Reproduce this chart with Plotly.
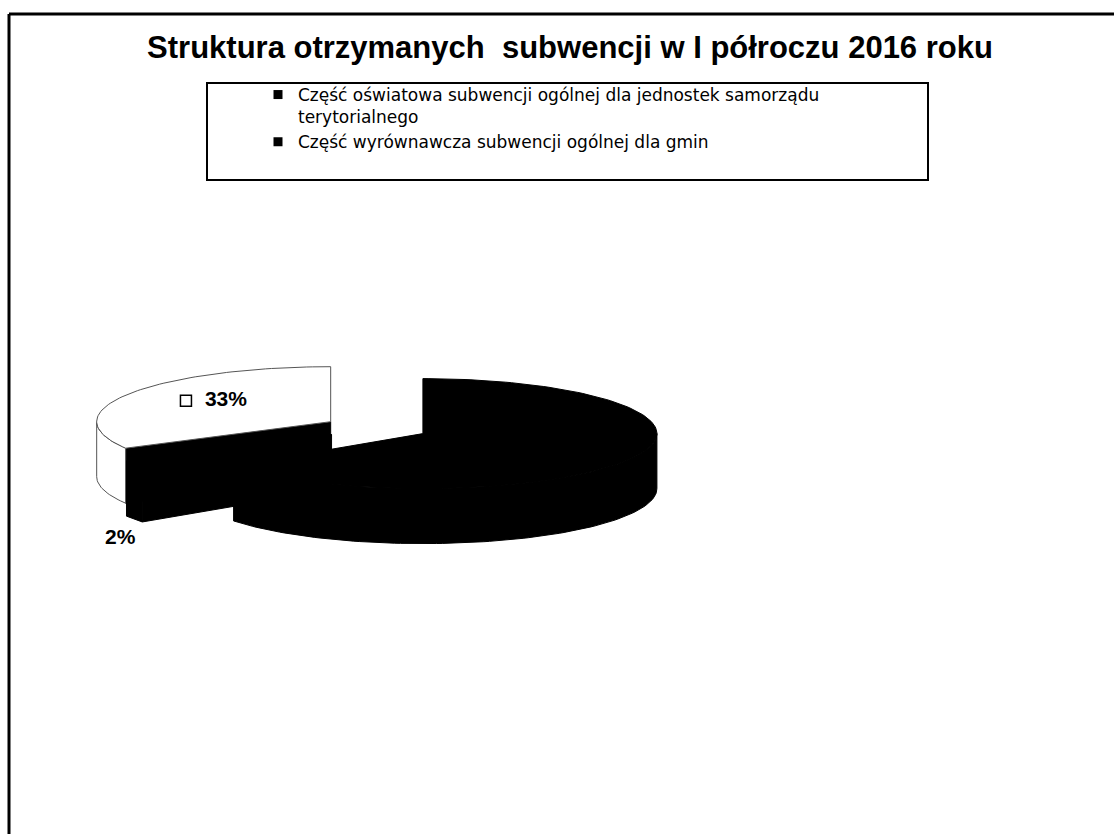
import math
import plotly.graph_objects as go

# ---------------- data ----------------
categories = [
    "Część oświatowa subwencji ogólnej dla jednostek samorządu terytorialnego",
    "Część wyrównawcza subwencji ogólnej dla gmin",
    "Pozostała część subwencji ogólnej",
]
legend_labels = [
    "Część oświatowa subwencji ogólnej dla jednostek samorządu<br>terytorialnego",
    "Część wyrównawcza subwencji ogólnej dla gmin",
]
values = [65, 2, 33]
show_label = [False, True, True]
title_text = "Struktura otrzymanych  subwencji w I półroczu 2016 roku"

# ---------------- style ----------------
top_colors = ["#000000", "#000000", "#ffffff"]
wall_colors = ["#000000", "#000000", "#ffffff"]
cut_colors = ["#000000", "#000000", "#000000"]
edge_colors = ["#000000", "#000000", "#555555"]
W, H = 1114, 834
CX, CY = 376, 428          # pie centre (page pixels)
RX, RY = 234, 55           # ellipse radii of the top face
DEPTH = 55                 # thickness of the pie
EXPLODE = 0.225            # explosion as a fraction of the radius
FONT = "Liberation Sans, Arial, sans-serif"

total = float(sum(values))
bounds = []
start = 0.0
for v in values:
    end = start + 360.0 * v / total
    bounds.append((start, end))
    start = end


def pt(cx, cy, t, r=1.0):
    a = math.radians(t)
    return cx + r * RX * math.sin(a), cy - r * RY * math.cos(a)


def arc(cx, cy, a, b, dy=0.0):
    n = max(2, int(abs(b - a) / 1.5) + 2)
    xs, ys = [], []
    for k in range(n + 1):
        t = a + (b - a) * k / n
        x, y = pt(cx, cy, t)
        xs.append(x)
        ys.append(y + dy)
    return xs, ys


def poly(xs, ys, fill, line, name):
    return go.Scatter(
        x=xs + [xs[0]], y=ys + [ys[0]], mode="lines", fill="toself",
        fillcolor=fill, line=dict(color=line, width=1),
        showlegend=False, hoverinfo="text", text=name,
    )


fig = go.Figure()
centres = []
for i, (a, b) in enumerate(bounds):
    mid = math.radians((a + b) / 2)
    cx = CX + EXPLODE * RX * math.sin(mid)
    cy = CY - EXPLODE * RY * math.cos(mid)
    centres.append((cx, cy))

# draw back (white) slice first, then the small one, then the big one
for i in [2, 1, 0]:
    a, b = bounds[i]
    cx, cy = centres[i]
    # radial cut faces
    for t, vis in ((a, math.sin(math.radians(a)) < -1e-9),
                   (b, math.sin(math.radians(b)) > 1e-9)):
        if vis:
            rx, ry = pt(cx, cy, t)
            fig.add_trace(poly([cx, rx, rx, cx], [cy, ry, ry + DEPTH, cy + DEPTH],
                               cut_colors[i], cut_colors[i], categories[i]))
    # outer wall (front part only)
    lo, hi = max(a, 90.0), min(b, 270.0)
    if hi > lo:
        tx, ty = arc(cx, cy, lo, hi)
        bx, by = arc(cx, cy, hi, lo, DEPTH)
        fig.add_trace(poly(tx + bx, ty + by, wall_colors[i], edge_colors[i], categories[i]))
    # top face
    tx, ty = arc(cx, cy, a, b)
    fig.add_trace(poly([cx] + tx, [cy] + ty, top_colors[i], edge_colors[i], categories[i]))

# data labels
lab_x, lab_y, lab_t = [], [], []
key_x, key_y = [], []
for i, (a, b) in enumerate(bounds):
    if not show_label[i]:
        continue
    cx, cy = centres[i]
    mid = math.radians((a + b) / 2)
    pct = "%d%%" % round(100 * values[i] / total)
    if values[i] / total > 0.1:
        x = cx + 0.52 * RX * math.sin(mid)
        y = cy - 0.75 * RY * math.cos(mid)
        key_x.append(x - 40)
        key_y.append(y)
    else:
        x = cx + 1.07 * RX * math.sin(mid)
        y = cy - RY * math.cos(mid) + DEPTH + 20
    lab_x.append(x)
    lab_y.append(y)
    lab_t.append("<b>%s</b>" % pct)

fig.add_trace(go.Scatter(
    x=key_x, y=key_y, mode="markers", showlegend=False, hoverinfo="skip",
    marker=dict(symbol="square", size=11, color="white",
                line=dict(color="black", width=1.5)),
))
fig.add_trace(go.Scatter(
    x=lab_x, y=lab_y, mode="text", text=lab_t, showlegend=False, hoverinfo="skip",
    textfont=dict(family=FONT, size=21, color="black"),
))

# legend entries
for i, lab in enumerate(legend_labels):
    fig.add_trace(go.Scatter(
        x=[None], y=[None], mode="markers", name=lab,
        marker=dict(symbol="square", size=9, color=top_colors[i]),
    ))

fig.update_layout(
    width=W, height=H, autosize=False,
    margin=dict(l=0, r=0, t=0, b=0, pad=0),
    paper_bgcolor="white", plot_bgcolor="white",
    xaxis=dict(range=[0, W], visible=False, fixedrange=True),
    yaxis=dict(range=[H, 0], visible=False, fixedrange=True),
    title=dict(text="<b>%s</b>" % title_text, x=570 / W, y=1 - 47 / H,
               xanchor="center", yanchor="middle",
               font=dict(family=FONT, size=31, color="black")),
    legend=dict(x=258 / W, y=1 - 77 / H, xanchor="left", yanchor="top",
                bgcolor="rgba(0,0,0,0)", borderwidth=0, valign="top",
                font=dict(family="DejaVu Sans, sans-serif", size=17, color="black"),
                tracegroupgap=0),
    shapes=[
        dict(type="rect", xref="x", yref="y", x0=207, x1=928, y0=83, y1=180,
             line=dict(color="black", width=2), layer="below"),
        dict(type="line", xref="x", yref="y", x0=9, x1=W, y0=14, y1=14,
             line=dict(color="black", width=3)),
        dict(type="line", xref="x", yref="y", x0=9, x1=9, y0=14, y1=H,
             line=dict(color="black", width=3)),
    ],
)

fig.write_html("out.html", config={"displayModeBar": False},
               post_script="document.body.style.margin='0';document.body.style.overflow='hidden';")
